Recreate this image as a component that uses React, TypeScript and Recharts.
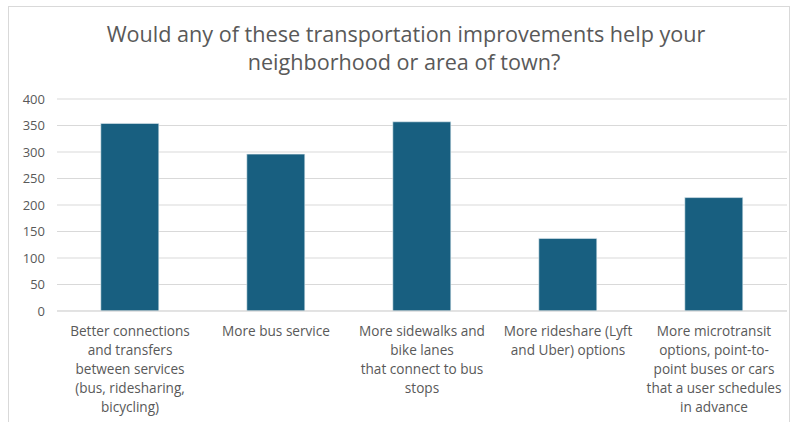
import React from "react";
import { BarChart, Bar, XAxis, YAxis, CartesianGrid } from "recharts";

const categories = [
  "Better connections and transfers between services (bus, ridesharing, bicycling)",
  "More bus service",
  "More sidewalks and bike lanes that connect to bus stops",
  "More rideshare (Lyft and Uber) options",
  "More microtransit options, point-to-point buses or cars that a user schedules in advance",
];
const categoryLines = [
  ["Better connections", "and transfers", "between services", "(bus, ridesharing,", "bicycling)"],
  ["More bus service"],
  ["More sidewalks and", "bike lanes", "that connect to bus", "stops"],
  ["More rideshare (Lyft", "and Uber) options"],
  ["More microtransit", "options, point-to-", "point buses or cars", "that a user schedules", "in advance"],
];
const values = [354, 296, 357, 137, 214];
const yTicks = [0, 50, 100, 150, 200, 250, 300, 350, 400];
const titleLines = [
  "Would any of these transportation improvements help your",
  "neighborhood or area of town?",
];

const data = categories.map((c, i) => ({ name: c, value: values[i], idx: i }));

const FONT = "'Open Sans', sans-serif";
const GRAY = "#595959";

const CatTick = (props: any) => {
  const { x, y, payload } = props;
  const lines = categoryLines[payload.index] || [payload.value];
  return (
    <g transform={`translate(${x},${y})`}>
      <text textAnchor="middle" fill={GRAY} fontSize={13.6} fontFamily={FONT}>
        {lines.map((l: string, i: number) => (
          <tspan key={i} x={0} y={17 + i * 19}>
            {l}
          </tspan>
        ))}
      </text>
    </g>
  );
};

export default function App() {
  return (
    <div style={{ position: "absolute", left: 0, top: 0, width: 792, height: 422, background: "#fff" }}>
      <div
        style={{
          position: "absolute",
          left: 8,
          top: 6,
          width: 782,
          height: 430,
          border: "1px solid #d9d9d9",
          boxSizing: "border-box",
        }}
      />
      <BarChart
        width={792}
        height={422}
        data={data}
        margin={{ top: 99, right: 5, bottom: 0, left: 0 }}
        barCategoryGap="30%"
      >
        <text
          x={406}
          textAnchor="middle"
          fill={GRAY}
          fontSize={21.6}
          fontFamily={FONT}
        >
          <tspan x={406} y={42}>{titleLines[0]}</tspan>
          <tspan x={404} y={70}>{titleLines[1]}</tspan>
        </text>
        <CartesianGrid vertical={false} stroke="#d9d9d9" strokeWidth={1} />
        <XAxis
          dataKey="name"
          interval={0}
          height={111}
          tickLine={false}
          axisLine={{ stroke: "#d9d9d9" }}
          tick={<CatTick />}
        />
        <YAxis
          width={57}
          domain={[0, 400]}
          ticks={yTicks}
          interval={0}
          tickLine={false}
          axisLine={false}
          tickMargin={6}
          tick={{ fill: GRAY, fontSize: 13, fontFamily: FONT }}
        />
        <Bar dataKey="value" fill="#185f80" stroke="#e8f0f4" strokeWidth={0.6} isAnimationActive={false} />
      </BarChart>
    </div>
  );
}
